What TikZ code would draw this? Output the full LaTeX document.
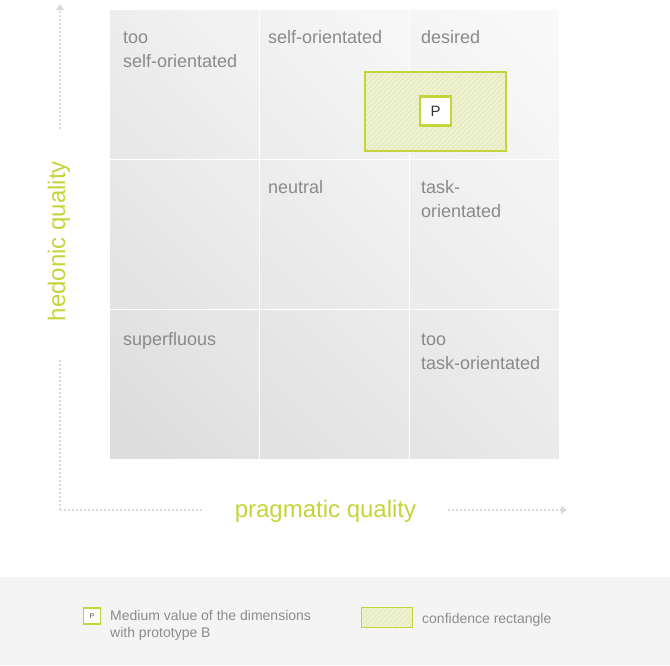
\documentclass[tikz,border=0pt]{standalone}
\usepackage{fontspec}
\setmainfont{Liberation Sans}
\usetikzlibrary{arrows.meta,patterns.meta}

\definecolor{leaf}{RGB}{196,212,58}
\definecolor{leaffill}{RGB}{238,242,208}
\definecolor{leafhatch}{RGB}{224,232,180}
\definecolor{celltext}{RGB}{138,138,138}
\definecolor{legendtext}{RGB}{140,140,140}
\definecolor{dots}{RGB}{218,218,218}
\definecolor{band}{RGB}{244,244,244}

\tikzset{
  cell/.style 2 args={draw=none, anchor=north west, inner sep=0pt,
    minimum width=148.5pt, minimum height=148.5pt,
    top color=white!#1!black, bottom color=white!#2!black, shading angle=-45},
  celllabel/.style={anchor=base west, inner sep=0pt, align=left,
    text=celltext, font=\fontsize{18}{24}\selectfont},
  axislabel/.style={text=leaf, inner sep=0pt, font=\fontsize{24}{28}\selectfont},
  axisline/.style={draw=dots, line width=2pt, dash pattern=on 2pt off 2pt},
  tip/.style={-{Triangle[length=6pt,width=8pt,fill=dots]}},
  confbox/.style={draw=leaf, line width=2pt, inner sep=0pt,
    preaction={fill=leaffill},
    pattern={Lines[angle=45,distance=3.5pt,line width=0.7pt]}, pattern color=leafhatch},
  pbox/.style={draw=leaf, line width=2.5pt, fill=white, inner sep=0pt},
  legendtxt/.style={anchor=base west, inner sep=0pt, align=left,
    text=legendtext, font=\fontsize{14}{17}\selectfont},
}

\begin{document}
\begin{tikzpicture}[x=1pt, y=-1pt]
\useasboundingbox (0,0) rectangle (670,665);

% legend band
\fill[band] (0,577) rectangle (670,665);

% the nine cells, lighter towards the upper right
\node[cell={95.0}{91.0}] (c11) at (110,10) {};
\node[cell={96.5}{93.0}] (c12) at (260,10) {};
\node[cell={97.5}{94.5}] (c13) at (410,10) {};
\node[cell={93.0}{89.0}] (c21) at (110,160) {};
\node[cell={94.5}{91.0}] (c22) at (260,160) {};
\node[cell={95.5}{92.5}] (c23) at (410,160) {};
\node[cell={90.5}{86.5}] (c31) at (110,310) {};
\node[cell={92.0}{88.5}] (c32) at (260,310) {};
\node[cell={93.5}{90.0}] (c33) at (410,310) {};

% cell captions (base anchor sits on the last line)
\node[celllabel] (l11) at (123,67) {too\\self-orientated};
\node[celllabel] (l12) at (268,43) {self-orientated};
\node[celllabel] (l13) at (421,43) {desired};
\node[celllabel] (l22) at (268,193) {neutral};
\node[celllabel] (l23) at (421,217) {task-\\orientated};
\node[celllabel] (l31) at (123,345) {superfluous};
\node[celllabel] (l33) at (421,369) {too\\task-orientated};

% confidence rectangle with the medium value
\node[confbox, minimum width=141pt, minimum height=79pt, anchor=north west] (conf) at (365,72) {};
\node[pbox, minimum width=31pt, minimum height=29pt, text=black!80,
      font=\fontsize{15}{15}\selectfont] (pval) at (435.5,111) {P};

% axes
\coordinate (origin) at (60,510);
\coordinate (ylow) at (60,360);
\coordinate (yhigh) at (60,129);
\coordinate (ytip) at (60,4);
\coordinate (xlow) at (202,510);
\coordinate (xhigh) at (448,510);
\coordinate (xtip) at (567,510);
\draw[axisline] (origin) -- (ylow);
\draw[axisline, tip] (yhigh) -- (ytip);
\draw[axisline] (origin) -- (xlow);
\draw[axisline, tip] (xhigh) -- (xtip);

\node[axislabel, rotate=90, anchor=base] (hq) at (65,241) {hedonic quality};
\node[axislabel, anchor=base] (pq) at (325.5,517) {pragmatic quality};

% legend
\node[pbox, line width=1.6pt, minimum width=17pt, minimum height=16pt,
      text=black!70, font=\fontsize{7}{7}\selectfont] (lp) at (92,616) {P};
\node[legendtxt] (lpt) at (110,637) {Medium value of the dimensions\\with prototype B};
\node[confbox, line width=1.4pt, minimum width=51pt, minimum height=20pt,
      anchor=north west] (lc) at (360.5,607) {};
\node[legendtxt] (lct) at (422,623) {confidence rectangle};
\end{tikzpicture}
\end{document}
